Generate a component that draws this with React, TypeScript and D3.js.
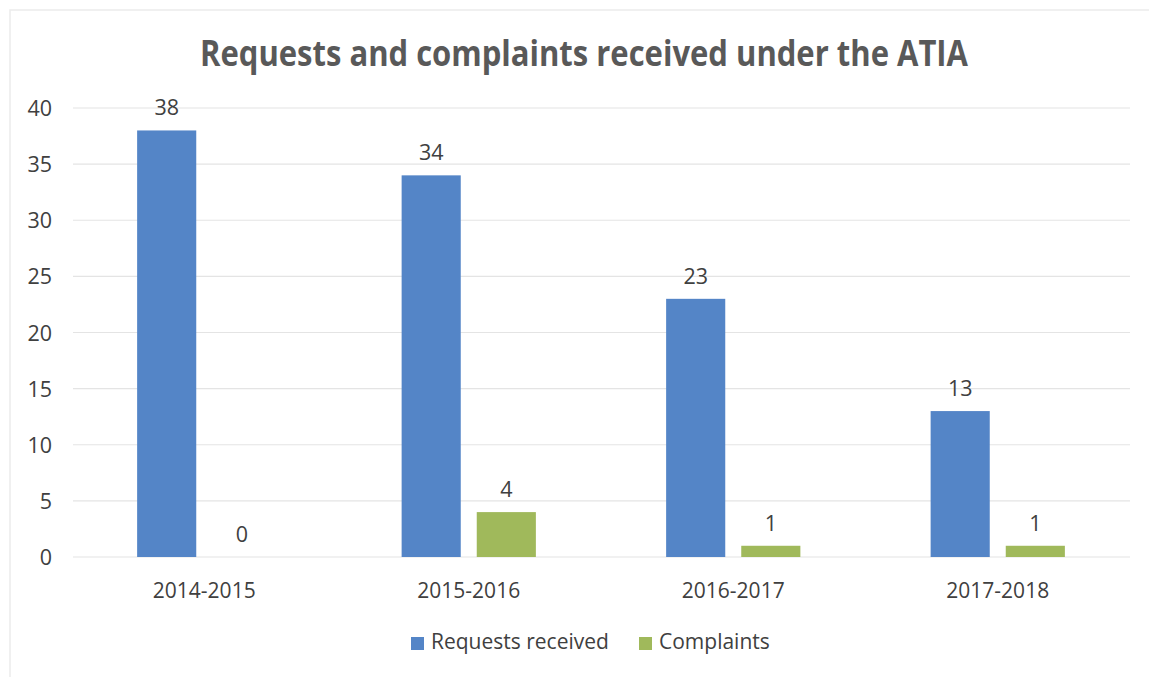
import React, { useEffect, useRef } from "react";
import * as d3 from "d3";

const categories = ["2014-2015", "2015-2016", "2016-2017", "2017-2018"];
const seriesNames = ["Requests received", "Complaints"];
const requests = [38, 34, 23, 13];
const complaints = [0, 4, 1, 1];
const yTicks = [0, 5, 10, 15, 20, 25, 30, 35, 40];

const colors = ["#5485c7", "#a0b95b"];
const width = 1149, height = 677;
const FONT = "'Open Sans', sans-serif";

const App = () => {
    const ref = useRef<SVGSVGElement>(null);

    useEffect(() => {
        const svg = d3.select(ref.current);
        svg.selectAll("*").remove();

        // faint page frame from the scan
        svg.append("path")
            .attr("d", "M10,677 L10,10 L1149,10")
            .attr("fill", "none")
            .attr("stroke", "#ececec")
            .attr("stroke-width", 1.5);

        svg.append("text")
            .attr("x", 584)
            .attr("y", 66)
            .attr("text-anchor", "middle")
            .attr("font-family", FONT)
            .attr("font-weight", 700)
            .attr("font-size", 35)
            .attr("fill", "#595959")
            .attr("textLength", 768)
            .attr("lengthAdjust", "spacingAndGlyphs")
            .text("Requests and complaints received under the ATIA");

        const x0 = d3.scaleBand().domain(categories).range([72, 1130]).padding(0);
        const x1 = d3.scaleBand().domain(seriesNames).range([0, x0.bandwidth()])
            .paddingInner(0.213).paddingOuter(0.867);
        const y = d3.scaleLinear().domain([0, 40]).range([557, 108]);

        // gridlines
        svg.append("g")
            .selectAll("line")
            .data(yTicks)
            .enter()
            .append("line")
            .attr("x1", 73)
            .attr("x2", 1130)
            .attr("y1", (d) => y(d))
            .attr("y2", (d) => y(d))
            .attr("stroke", "#e4e4e4")
            .attr("stroke-width", 1.2);

        // y labels
        svg.append("g")
            .selectAll("text")
            .data(yTicks)
            .enter()
            .append("text")
            .attr("x", 52)
            .attr("y", (d) => y(d) + 8)
            .attr("text-anchor", "end")
            .attr("font-family", FONT)
            .attr("font-size", 21.5)
            .attr("fill", "#404040")
            .text((d) => d);

        const table = categories.map((c, i) => ({
            category: c,
            values: [requests[i], complaints[i]],
        }));

        const groups = svg.append("g")
            .selectAll("g")
            .data(table)
            .enter()
            .append("g")
            .attr("transform", (d) => "translate(" + x0(d.category) + ",0)");

        groups.selectAll("rect")
            .data((d) => d.values.map((v, j) => ({ name: seriesNames[j], value: v, j })))
            .enter()
            .append("rect")
            .attr("x", (d) => x1(d.name)!)
            .attr("y", (d) => y(d.value))
            .attr("width", x1.bandwidth())
            .attr("height", (d) => y(0) - y(d.value))
            .attr("fill", (d) => colors[d.j]);

        groups.selectAll("text")
            .data((d) => d.values.map((v, j) => ({ name: seriesNames[j], value: v })))
            .enter()
            .append("text")
            .attr("x", (d) => x1(d.name)! + x1.bandwidth() / 2)
            .attr("y", (d) => y(d.value) - 15)
            .attr("text-anchor", "middle")
            .attr("font-family", FONT)
            .attr("font-size", 21.5)
            .attr("fill", "#404040")
            .text((d) => d.value);

        // category labels
        svg.append("g")
            .selectAll("text")
            .data(categories)
            .enter()
            .append("text")
            .attr("x", (d) => x0(d)! + x0.bandwidth() / 2)
            .attr("y", 598)
            .attr("text-anchor", "middle")
            .attr("font-family", FONT)
            .attr("font-size", 21)
            .attr("fill", "#404040")
            .text((d) => d);

        // legend
        const legendX = [411, 639];
        const legend = svg.append("g")
            .selectAll("g")
            .data(seriesNames)
            .enter()
            .append("g")
            .attr("transform", (d, i) => "translate(" + legendX[i] + ",637)");
        legend.append("rect")
            .attr("width", 13)
            .attr("height", 13)
            .attr("fill", (d, i) => colors[i]);
        legend.append("text")
            .attr("x", 20)
            .attr("y", 12)
            .attr("font-family", FONT)
            .attr("font-size", 21)
            .attr("fill", "#404040")
            .text((d) => d);
    }, []);

    return (
        <div style={{ position: "fixed", left: 0, top: 0, background: "#fff" }}>
            <svg ref={ref} width={width} height={height} style={{ display: "block" }} />
        </div>
    );
};

export default App;
